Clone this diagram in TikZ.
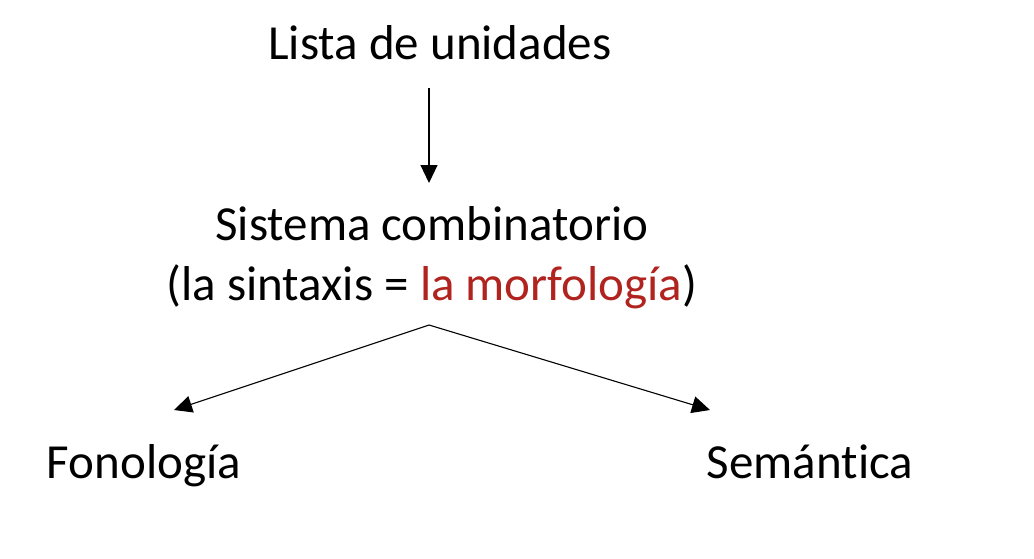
\documentclass[tikz,border=0pt]{standalone}
\usepackage{fontspec}
\setmainfont{Carlito}[RawFeature=-liga]
\usetikzlibrary{arrows.meta}
\definecolor{morfRed}{HTML}{B0231E}

\begin{document}
\begin{tikzpicture}[x=1pt,y=-1pt,
    lbl/.style={anchor=base,inner sep=0pt,font=\fontsize{49}{58}\selectfont},
    arr/.style={line width=1.1pt,-{Triangle[length=18pt,width=17pt]}}]
    \useasboundingbox (0,0) rectangle (1034,558);
    \node[lbl] (lista) at (440,59) {Lista de unidades};
    \node[lbl] (sistema) at (432,240) {Sistema combinatorio};
    \node[lbl] (sintaxis) at (432,300) {(la sintaxis = \textcolor{morfRed}{la morfología})};
    \node[lbl] (fono) at (144,478) {Fonología};
    \node[lbl] (sem) at (810,478) {Semántica};
    \coordinate (top) at (429,88);
    \coordinate (down) at (429,183);
    \coordinate (apex) at (429,325);
    \coordinate (fonoTip) at (174,410);
    \coordinate (semTip) at (710,410);
    \draw[arr] (top) -- (down);
    \draw[arr] (apex) -- (fonoTip);
    \draw[arr] (apex) -- (semTip);
\end{tikzpicture}
\end{document}
